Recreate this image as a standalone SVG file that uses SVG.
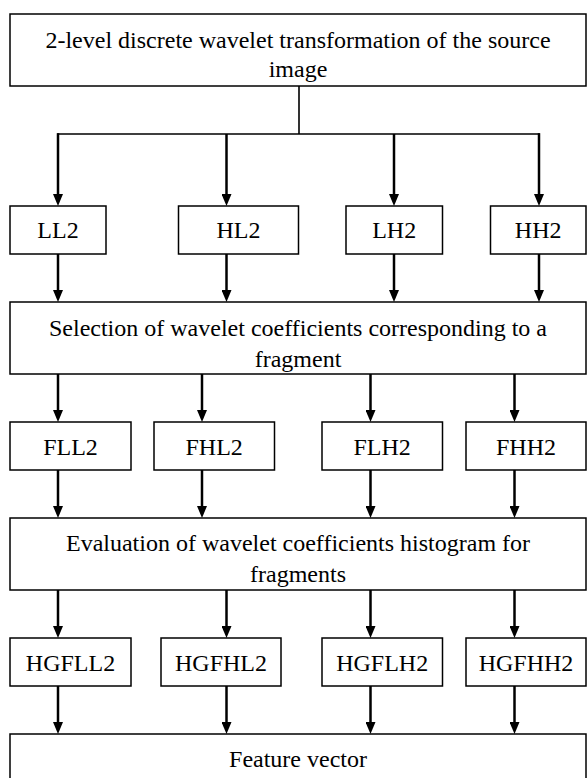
<svg xmlns="http://www.w3.org/2000/svg" width="587" height="778" viewBox="0 0 587 778">
<style>
.box{fill:#fff;stroke:#000;stroke-width:1.5}
.t{font-family:'Liberation Serif','DejaVu Serif',serif;font-size:24px;fill:#000;text-anchor:middle}
.c{stroke:#000;stroke-width:1.6;fill:none}
.a{stroke:#000;stroke-width:2.5;fill:none;marker-end:url(#ah)}
</style>
<defs>
<marker id="ah" markerUnits="userSpaceOnUse" markerWidth="12" markerHeight="10" viewBox="0 0 12 10" refX="4" refY="5" orient="auto">
<path d="M0,0 L12,5 L0,10 z" fill="#000"/>
</marker>
</defs>
<rect width="587" height="778" fill="#fff"/>
<g id="connectors">
<path class="c" d="M299,86 V134 M57.2,134 H539.8"/>
<path class="a" d="M58,133.2 V198"/>
<path class="a" d="M226.5,134 V198"/>
<path class="a" d="M394,134 V198"/>
<path class="a" d="M539,133.2 V198"/>
<path class="a" d="M58,254 V294"/>
<path class="a" d="M226.5,254 V294"/>
<path class="a" d="M394,254 V294"/>
<path class="a" d="M539,254 V294"/>
<path class="a" d="M58,374 V414"/>
<path class="a" d="M202,374 V414"/>
<path class="a" d="M370.5,374 V414"/>
<path class="a" d="M514.5,374 V414"/>
<path class="a" d="M58,470 V510"/>
<path class="a" d="M202,470 V510"/>
<path class="a" d="M370.5,470 V510"/>
<path class="a" d="M514.5,470 V510"/>
<path class="a" d="M58,590 V630"/>
<path class="a" d="M226.5,590 V630"/>
<path class="a" d="M370.5,590 V630"/>
<path class="a" d="M514.5,590 V630"/>
<path class="a" d="M58,686 V726"/>
<path class="a" d="M226.5,686 V726"/>
<path class="a" d="M370.5,686 V726"/>
<path class="a" d="M514.5,686 V726"/>
</g>
<g font-family="Liberation Serif, serif">
<g id="dwt">
<rect class="box" x="10" y="14" width="576" height="72"/>
<text class="t" x="298" y="48">2-level discrete wavelet transformation of the source</text>
<text class="t" x="298" y="77">image</text>
</g>
<g id="ll2"><rect class="box" x="10" y="206" width="96" height="48"/><text class="t" x="58" y="238">LL2</text></g>
<g id="hl2"><rect class="box" x="178.5" y="206" width="120" height="48"/><text class="t" x="238.5" y="238">HL2</text></g>
<g id="lh2"><rect class="box" x="346" y="206" width="96.5" height="48"/><text class="t" x="394.2" y="238">LH2</text></g>
<g id="hh2"><rect class="box" x="490.5" y="206" width="95.5" height="48"/><text class="t" x="538.2" y="238">HH2</text></g>
<g id="selection">
<rect class="box" x="10" y="302" width="576" height="72"/>
<text class="t" x="298" y="336">Selection of wavelet coefficients corresponding to a</text>
<text class="t" x="298" y="367">fragment</text>
</g>
<g id="fll2"><rect class="box" x="10" y="422" width="121" height="48"/><text class="t" x="70.5" y="455">FLL2</text></g>
<g id="fhl2"><rect class="box" x="154" y="422" width="120.5" height="48"/><text class="t" x="214.2" y="455">FHL2</text></g>
<g id="flh2"><rect class="box" x="322" y="422" width="120.5" height="48"/><text class="t" x="382.2" y="455">FLH2</text></g>
<g id="fhh2"><rect class="box" x="466" y="422" width="120" height="48"/><text class="t" x="526" y="455">FHH2</text></g>
<g id="evaluation">
<rect class="box" x="10" y="518" width="576" height="72"/>
<text class="t" x="298" y="551">Evaluation of wavelet coefficients histogram for</text>
<text class="t" x="298" y="582">fragments</text>
</g>
<g id="hgfll2"><rect class="box" x="10" y="638" width="121" height="48"/><text class="t" x="70.5" y="671">HGFLL2</text></g>
<g id="hgfhl2"><rect class="box" x="161" y="638" width="120" height="48"/><text class="t" x="221" y="671">HGFHL2</text></g>
<g id="hgflh2"><rect class="box" x="322" y="638" width="120.5" height="48"/><text class="t" x="382.2" y="671">HGFLH2</text></g>
<g id="hgfhh2"><rect class="box" x="466" y="638" width="120" height="48"/><text class="t" x="526" y="671">HGFHH2</text></g>
<g id="feature">
<rect class="box" x="10" y="734" width="576" height="60"/>
<text class="t" x="298" y="767">Feature vector</text>
</g>
</g>
</svg>
